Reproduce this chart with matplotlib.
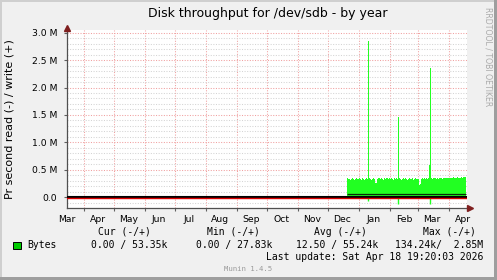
import matplotlib
matplotlib.use('Agg')
import matplotlib.pyplot as plt
import matplotlib.dates as mdates
from matplotlib.ticker import MultipleLocator, FixedLocator, FuncFormatter
from matplotlib.patches import Rectangle
import pandas as pd

# daily write average, Dec 20 2025 .. Apr 18 2026 (MB/s)
write_mb = [
    0.34, 0.33, 0.33, 0.32, 0.33, 0.34, 0.33, 0.32, 0.33, 0.34, 0.33, 0.33,
    0.34, 0.33, 0.32, 0.34, 0.33, 0.32, 0.33, 0.34, 0.33, 2.85, 0.34, 0.33,
    0.32, 0.33, 0.34, 0.33, 0.26, 0.25, 0.33, 0.35, 0.34, 0.33, 0.34, 0.33,
    0.32, 0.34, 0.33, 0.34, 0.35, 0.33, 0.34,
    0.33, 0.34, 0.33, 0.32, 0.34, 0.33, 0.34, 0.33, 1.46, 0.34, 0.33, 0.32,
    0.33, 0.34, 0.33, 0.34, 0.33, 0.32, 0.33, 0.34, 0.33, 0.33, 0.34, 0.32,
    0.33, 0.34, 0.33, 0.33,
    0.33, 0.22, 0.23, 0.33, 0.34, 0.33, 0.34, 0.33, 0.34, 0.33, 0.34, 0.58,
    2.36, 0.34, 0.33, 0.34, 0.35, 0.34, 0.33, 0.34, 0.33, 0.34, 0.35, 0.34,
    0.33, 0.34, 0.35, 0.34, 0.35, 0.34, 0.35,
    0.34, 0.35, 0.34, 0.35, 0.36, 0.35, 0.34, 0.35, 0.36, 0.35, 0.34, 0.35,
    0.36, 0.35, 0.36, 0.37, 0.36, 0.36,
]
write_dates = pd.date_range('2025-12-20', periods=len(write_mb), freq='D')

# read spikes (drawn negative)
read_dates = pd.to_datetime(['2026-01-10', '2026-02-09', '2026-03-13'])
read_mb = [0.08, 0.12, 0.12]

base_level = 0.049

end_time = pd.Timestamp('2026-04-18 19:20:03')
start_time = end_time - pd.Timedelta(days=400)

legend_cols = ['Cur (-/+)', 'Min (-/+)', 'Avg (-/+)', 'Max (-/+)']
legend_vals = ['0.00 / 53.35k', '0.00 / 27.83k', '12.50 / 55.24k', '134.24k/  2.85M']

W, H = 497, 280
fig = plt.figure(figsize=(W / 100, H / 100), dpi=100, facecolor='#F0F0F0')
ax = fig.add_axes([67 / W, 72 / H, 400 / W, 178 / H], facecolor='white')

ax.fill_between(write_dates, 0, write_mb, step='mid', color='#22FF22', lw=0, zorder=3)
ax.vlines(read_dates, [-v for v in read_mb], 0, color='#22FF22', lw=1, zorder=3)
ax.hlines(base_level, write_dates[0], write_dates[-1], color='#0A2A0A', lw=0.9, zorder=4)
ax.axhline(0.008, color='black', lw=1.5, zorder=5)
ax.axhline(-0.013, color='#DD0000', lw=1.0, zorder=5)

ax.set_xlim(start_time, end_time)
ax.set_ylim(-0.2, 3.05)

ax.yaxis.set_major_locator(FixedLocator([0, 0.5, 1.0, 1.5, 2.0, 2.5, 3.0]))
ax.yaxis.set_minor_locator(MultipleLocator(0.1))
ax.yaxis.set_major_formatter(FuncFormatter(lambda v, p: '0.0' if v == 0 else f'{v:.1f} M'))

ax.xaxis.set_major_locator(mdates.MonthLocator(bymonthday=1))
ax.xaxis.set_major_formatter(plt.NullFormatter())
ax.xaxis.set_minor_locator(mdates.MonthLocator(bymonthday=15))
ax.xaxis.set_minor_formatter(mdates.DateFormatter('%b'))

ax.grid(which='minor', axis='y', color='#D4D4D4', lw=0.75, linestyle=(0, (1, 1.5)), zorder=1)
ax.grid(which='major', axis='y', color='#F0A0A0', lw=0.75, linestyle=(0, (1, 1.5)), zorder=2)
ax.grid(which='major', axis='x', color='#F0A0A0', lw=0.75, linestyle=(0, (1, 1.5)), zorder=2)

ax.tick_params(axis='y', which='major', length=2, color='#606060', labelsize=6.7, pad=5)
ax.tick_params(axis='y', which='minor', length=0)
ax.tick_params(axis='x', which='major', length=2, color='#606060')
ax.tick_params(axis='x', which='minor', length=0, labelsize=6.7, pad=5)

for s in ['top', 'right']:
    ax.spines[s].set_visible(False)
for s in ['left', 'bottom']:
    ax.spines[s].set_color('#505050')
    ax.spines[s].set_linewidth(0.9)

# axis arrows
ax.plot([0], [1.01], marker='^', ms=4, color='#7F1F1F', transform=ax.transAxes, clip_on=False, zorder=6)
ax.plot([1.008], [0], marker='>', ms=4, color='#7F1F1F', transform=ax.transAxes, clip_on=False, zorder=6)

def fy(px):
    return 1 - px / H

def fx(px):
    return px / W

fig.text(fx(267.5), fy(13), 'Disk throughput for /dev/sdb - by year', ha='center', va='center', fontsize=9)
fig.text(fx(10), fy(119), 'Pr second read (-) / write (+)', rotation=90, ha='center', va='center', fontsize=8)
fig.text(fx(488), fy(57), 'RRDTOOL / TOBI OETIKER', rotation=270, ha='center', va='center',
         fontsize=5.6, color='#AAAAAA')

mono = 'DejaVu Sans Mono'
header_right = [151, 260, 367, 476]
value_right = [167, 272, 378, 483]
for hdr, hx in zip(legend_cols, header_right):
    fig.text(fx(hx), fy(232), hdr, ha='right', va='center', family=mono, fontsize=7)
for val, vx in zip(legend_vals, value_right):
    fig.text(fx(vx), fy(245), val, ha='right', va='center', family=mono, fontsize=7)
fig.patches.append(Rectangle((fx(13), fy(249)), 8 / W, 7.5 / H, facecolor='#00CC00',
                             edgecolor='black', lw=0.7, transform=fig.transFigure, figure=fig))
fig.text(fx(27), fy(245), 'Bytes', ha='left', va='center', family=mono, fontsize=7)
fig.text(fx(483), fy(257), 'Last update: Sat Apr 18 19:20:03 2026', ha='right', va='center',
         family=mono, fontsize=7)
fig.text(fx(248.5), fy(269), 'Munin 1.4.5', ha='center', va='center', family=mono,
         fontsize=5.2, color='#999999')

# 3d frame
fig.patches.append(Rectangle((0, 0), 2 / W, 1, facecolor='#CFCFCF', lw=0, transform=fig.transFigure, figure=fig))
fig.patches.append(Rectangle((0, 1 - 2 / H), 1, 2 / H, facecolor='#CFCFCF', lw=0, transform=fig.transFigure, figure=fig))
fig.patches.append(Rectangle((1 - 3 / W, 0), 3 / W, 1, facecolor='#9E9E9E', lw=0, transform=fig.transFigure, figure=fig))
fig.patches.append(Rectangle((0, 0), 1, 3 / H, facecolor='#9E9E9E', lw=0, transform=fig.transFigure, figure=fig))

fig.savefig('out.png', dpi=100, facecolor=fig.get_facecolor())
